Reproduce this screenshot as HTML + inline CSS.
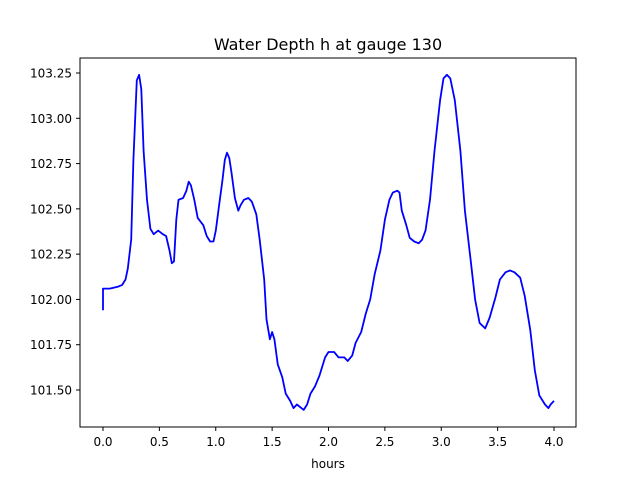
<!DOCTYPE html>
<html><head><meta charset="utf-8"><style>
body{margin:0;background:#fff}
svg text{font-family:"DejaVu Sans","Liberation Sans",sans-serif;fill:#000}
</style></head><body>
<svg id="chart" width="640" height="480">
<rect width="640" height="480" fill="#fff"/>
<text x="328" y="50" font-size="16" text-anchor="middle">Water Depth h at gauge 130</text>
<g id="ticks"></g>
<path id="line" fill="none" stroke="#0000ff" stroke-width="1.8" stroke-linejoin="round"/>
<rect x="80" y="58" width="496" height="369" fill="none" stroke="#000" stroke-width="1"/>
<text x="328" y="468" font-size="12" text-anchor="middle">hours</text>
</svg>
<script>
const hours=[0,0,0.06,0.13,0.17,0.2,0.22,0.25,0.27,0.30,0.32,0.34,0.36,0.39,0.42,0.45,0.49,0.53,0.56,0.59,0.61,0.63,0.65,0.67,0.71,0.74,0.76,0.78,0.81,0.84,0.89,0.92,0.95,0.98,1.00,1.03,1.06,1.08,1.10,1.12,1.14,1.17,1.20,1.22,1.25,1.29,1.32,1.36,1.39,1.43,1.45,1.48,1.50,1.52,1.55,1.59,1.62,1.66,1.69,1.72,1.76,1.78,1.81,1.84,1.88,1.92,1.97,2.00,2.05,2.09,2.14,2.17,2.21,2.24,2.29,2.33,2.37,2.41,2.46,2.50,2.54,2.57,2.61,2.63,2.65,2.69,2.72,2.76,2.80,2.83,2.86,2.90,2.94,2.99,3.02,3.05,3.08,3.12,3.17,3.21,3.26,3.30,3.34,3.39,3.43,3.48,3.52,3.57,3.61,3.65,3.70,3.74,3.79,3.83,3.87,3.92,3.95,3.97,4.0];
const depth=[101.94,102.06,102.06,102.07,102.08,102.11,102.17,102.33,102.77,103.21,103.24,103.16,102.82,102.55,102.39,102.36,102.38,102.36,102.35,102.27,102.20,102.21,102.44,102.55,102.56,102.60,102.65,102.63,102.55,102.45,102.41,102.35,102.32,102.32,102.38,102.52,102.66,102.77,102.81,102.78,102.70,102.56,102.49,102.52,102.55,102.56,102.54,102.47,102.33,102.11,101.89,101.78,101.82,101.78,101.64,101.57,101.48,101.44,101.40,101.42,101.40,101.39,101.42,101.48,101.52,101.58,101.68,101.71,101.71,101.68,101.68,101.66,101.69,101.76,101.82,101.92,102.00,102.14,102.27,102.44,102.55,102.59,102.60,102.59,102.49,102.41,102.34,102.32,102.31,102.33,102.38,102.55,102.82,103.10,103.22,103.24,103.22,103.10,102.82,102.49,102.22,102.00,101.87,101.84,101.90,102.01,102.11,102.15,102.16,102.15,102.12,102.02,101.83,101.61,101.47,101.42,101.40,101.42,101.44];
const xTicks=[0,0.5,1,1.5,2,2.5,3,3.5,4];
const xTickLabels=["0.0","0.5","1.0","1.5","2.0","2.5","3.0","3.5","4.0"];
const yTicks=[101.5,101.75,102,102.25,102.5,102.75,103,103.25];
const yTickLabels=["101.50","101.75","102.00","102.25","102.50","102.75","103.00","103.25"];
const X=v=>103+v*112.75;
const Y=v=>390-(v-101.5)*181.14;
const ns="http://www.w3.org/2000/svg";
const g=document.getElementById('ticks');
function mk(tag,attrs){const e=document.createElementNS(ns,tag);for(const k in attrs)e.setAttribute(k,attrs[k]);g.appendChild(e);return e;}
xTicks.forEach((t,i)=>{
 const l=mk('line',{x1:X(t),x2:X(t),y1:427,y2:431,stroke:'#000'});
 
 
 const tx=mk('text',{x:X(t),y:446,'font-size':12,'text-anchor':'middle'});
 tx.textContent=xTickLabels[i];
 
 
});
yTicks.forEach((t,i)=>{
 const l=mk('line',{x1:76,x2:80,y1:Y(t),y2:Y(t),stroke:'#000'});
 
 
 const tx=mk('text',{x:72,y:Y(t)+4.5,'font-size':12,'text-anchor':'end'});
 tx.textContent=yTickLabels[i];
 
 
});
document.getElementById('line').setAttribute('d',hours.map((h,i)=>(i?'L':'M')+X(h).toFixed(1)+','+Y(depth[i]).toFixed(1)).join(''));
</script>
</body></html>
